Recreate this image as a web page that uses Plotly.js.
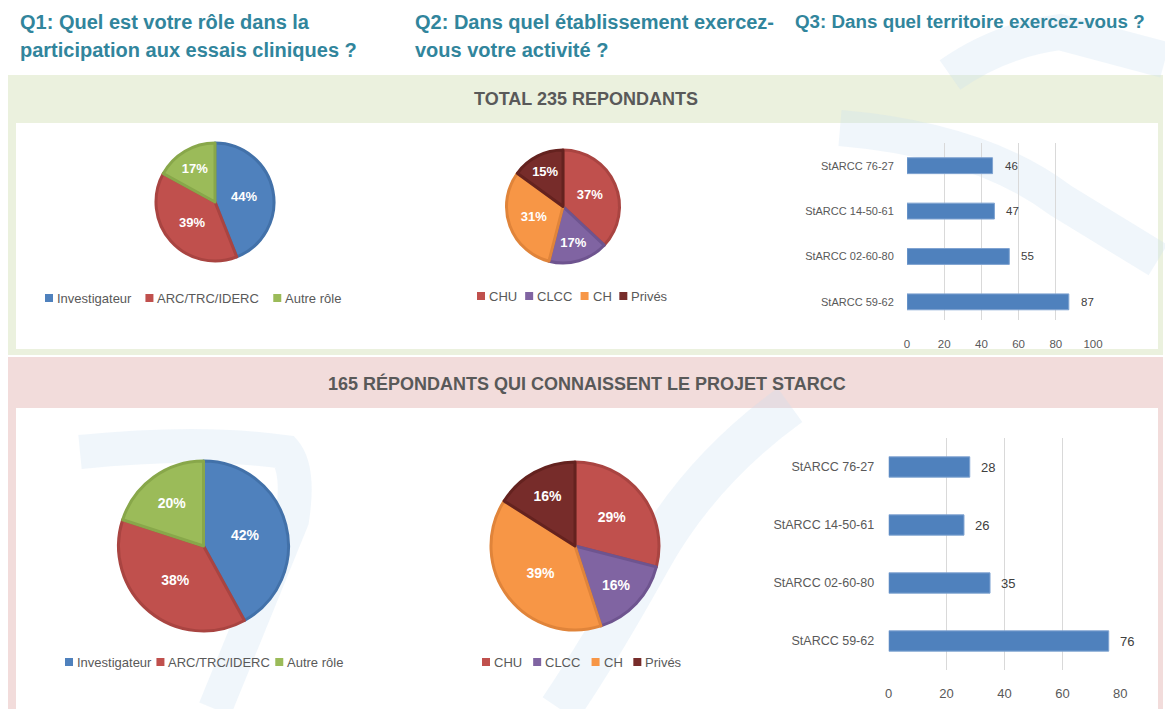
<!DOCTYPE html>
<html>
<head>
<meta charset="utf-8">
<script src="https://cdn.plot.ly/plotly-3.0.1.min.js"></script>
<style>html,body{margin:0;padding:0;background:#fff;}#chart{width:1165px;height:709px;}</style>
</head>
<body>
<div id="chart"></div>
<script>
// ---- data ----
const roleLabels = ['Investigateur', 'ARC/TRC/IDERC', 'Autre rôle'];
const roleTotal = [44, 39, 17];
const roleKnow = [42, 38, 20];
const etabLabels = ['CHU', 'CLCC', 'CH', 'Privés'];
const etabTotal = [37, 17, 31, 15];
const etabKnow = [29, 16, 39, 16];
const territories = ['StARCC 59-62', 'StARCC 02-60-80', 'StARCC 14-50-61', 'StARCC 76-27'];
const terrTotal = [87, 55, 47, 46];
const terrKnow = [76, 35, 26, 28];
const xTicksTotal = [0, 20, 40, 60, 80, 100];
const xTicksKnow = [0, 20, 40, 60, 80];

const titleQ1 = ['Q1: Quel est votre rôle dans la', 'participation aux essais cliniques ?'];
const titleQ2 = ['Q2: Dans quel établissement exercez-', 'vous votre activité ?'];
const titleQ3 = ['Q3: Dans quel territoire exercez-vous ?'];
const headTotal = 'TOTAL 235 REPONDANTS';
const headKnow = '165 RÉPONDANTS QUI CONNAISSENT LE PROJET STARCC';

// ---- styles ----
const roleColors = ['#4F81BD', '#C0504D', '#9BBB59'];
const roleLines = ['#4271A9', '#A94441', '#88A74A'];
const etabColors = ['#C0504D', '#8064A2', '#F79646', '#772C2A'];
const etabLines = ['#A94441', '#6E548F', '#E0843A', '#64221F'];
const FONT = '"Liberation Sans", Arial, sans-serif';
const W = 1165, H = 709;
const fx = x => x / W;
const fy = y => 1 - y / H;
const P = s => s.replace(/(-?\d+\.?\d*),(-?\d+\.?\d*)/g, (m, a, b) => (a / W).toFixed(5) + ',' + (1 - b / H).toFixed(5));

function pie(labels, values, colors, lines, dom, fs) {
  return {
    type: 'pie', labels: labels, values: values, sort: false, direction: 'clockwise', rotation: 0,
    marker: {colors: colors, line: {color: lines, width: 3}},
    texttemplate: '%{value}%', textposition: 'inside', insidetextorientation: 'horizontal',
    textfont: {color: '#ffffff', size: fs, family: FONT, weight: 'bold'},
    domain: {x: [fx(dom[0]), fx(dom[1])], y: [fy(dom[3]), fy(dom[2])]},
    showlegend: false, hoverinfo: 'label+percent'
  };
}
function bar(vals, xa, ya) {
  return {
    type: 'bar', orientation: 'h', y: territories, x: vals, xaxis: xa, yaxis: ya,
    marker: {color: '#4F81BD', line: {color: '#7FA3D1', width: 1}}, width: 0.35,
    showlegend: false, hoverinfo: 'x+y'
  };
}

const data = [
  pie(roleLabels, roleTotal, roleColors, roleLines, [156, 274, 143, 261], 13),
  pie(etabLabels, etabTotal, etabColors, etabLines, [506, 620, 150, 263], 13),
  pie(roleLabels, roleKnow, roleColors, roleLines, [118, 289, 461, 631], 14),
  pie(etabLabels, etabKnow, etabColors, etabLines, [491, 659, 462, 630], 14),
  bar(terrTotal, 'x', 'y'),
  bar(terrKnow, 'x2', 'y2')
];

const shapes = [];
const annotations = [];
// panels
function rect(x0, y0, x1, y1, color) {
  shapes.push({type: 'rect', xref: 'paper', yref: 'paper', x0: fx(x0), x1: fx(x1), y0: fy(y1), y1: fy(y0),
    fillcolor: color, line: {width: 0}, layer: 'below'});
}
rect(8, 75, 1163, 355, '#EBF1DE');
rect(16, 123, 1158, 349, '#FFFFFF');
rect(8, 357, 1163, 709, '#F2DCDB');
rect(16, 408, 1158, 709, '#FFFFFF');
// faint watermark strokes
const wm = 'rgba(200,224,240,0.28)';
[
  ['M 80,452 Q 200,440 285,452 Q 300,470 292,520 L 215,709', 34],
  ['M 790,405 Q 700,470 650,560 Q 600,650 560,709', 42],
  ['M 840,128 Q 980,140 1060,200 L 1158,260', 36],
  ['M 950,75 Q 1000,40 1060,32 L 1165,60', 36]
].forEach(([p, w]) => shapes.push({type: 'path', xref: 'paper', yref: 'paper', path: P(p),
  line: {color: wm, width: w}, fillcolor: 'rgba(0,0,0,0)', layer: 'below'}));

// titles
function text(t, x, y, size, color, anchor, bold) {
  annotations.push({xref: 'paper', yref: 'paper', x: fx(x), y: fy(y), text: t, showarrow: false,
    xanchor: anchor, yanchor: 'middle', align: 'left',
    font: {size: size, color: color, family: FONT, weight: bold ? 'bold' : 'normal'}});
}
const teal = '#31859C';
titleQ1.forEach((t, i) => text(t, 18, 22 + 28 * i, 20, teal, 'left', true));
titleQ2.forEach((t, i) => text(t, 413, 22 + 28 * i, 20, teal, 'left', true));
titleQ3.forEach((t, i) => text(t, 793, 22 + 28 * i, 18.8, teal, 'left', true));
text(headTotal, 586, 99, 18, '#595959', 'center', true);
text(headKnow, 587, 383, 18, '#595959', 'center', true);

// legends
const cv = document.createElement('canvas').getContext('2d');
function legend(labels, colors, x0, yc, fs, gap) {
  cv.font = fs + 'px "Liberation Sans", Arial, sans-serif';
  let x = x0;
  labels.forEach((lab, i) => {
    shapes.push({type: 'rect', xref: 'paper', yref: 'paper', x0: fx(x), x1: fx(x + 8), y0: fy(yc + 4), y1: fy(yc - 4),
      fillcolor: colors[i], line: {width: 0}});
    text(lab, x + 10, yc, fs, '#595959', 'left', false);
    x += 12 + cv.measureText(lab).width + gap;
  });
}
legend(roleLabels, roleColors, 45, 298, 13, 14);
legend(etabLabels, etabColors, 477, 296, 13, 8);
legend(roleLabels, roleColors, 65, 662, 13, 5);
legend(etabLabels, etabColors, 482, 662, 13, 11);

// bar value labels
terrTotal.forEach((v, i) => annotations.push({xref: 'x', yref: 'y', x: v, y: territories[i], text: String(v),
  showarrow: false, xanchor: 'left', xshift: 10, font: {size: 11.5, color: '#404040', family: FONT}}));
terrKnow.forEach((v, i) => annotations.push({xref: 'x2', yref: 'y2', x: v, y: territories[i], text: String(v),
  showarrow: false, xanchor: 'left', xshift: 9, font: {size: 13, color: '#404040', family: FONT}}));

const axBase = {showline: false, zeroline: false, fixedrange: true};
const layout = {
  width: W, height: H, margin: {l: 0, r: 0, t: 0, b: 0},
  paper_bgcolor: '#ffffff', plot_bgcolor: 'rgba(0,0,0,0)',
  font: {family: FONT, color: '#595959'},
  showlegend: false,
  xaxis: Object.assign({}, axBase, {domain: [fx(907), fx(1093)], range: [0, 100], tickvals: xTicksTotal,
    showgrid: true, gridcolor: '#D9D9D9', gridwidth: 1, ticks: 'outside', ticklen: 13, tickcolor: 'rgba(0,0,0,0)',
    tickfont: {size: 11.5, color: '#595959'}, anchor: 'y'}),
  yaxis: Object.assign({}, axBase, {domain: [fy(320), fy(143)], range: [-0.4, 3.5], type: 'category',
    showgrid: false, ticks: 'outside', ticklen: 10, tickcolor: 'rgba(0,0,0,0)',
    tickfont: {size: 11, color: '#595959'}, anchor: 'x'}),
  xaxis2: Object.assign({}, axBase, {domain: [fx(888.7), fx(1120.3)], range: [0, 80], tickvals: xTicksKnow,
    showgrid: true, gridcolor: '#D9D9D9', gridwidth: 1, ticks: 'outside', ticklen: 11, tickcolor: 'rgba(0,0,0,0)',
    tickfont: {size: 13, color: '#595959'}, anchor: 'y2'}),
  yaxis2: Object.assign({}, axBase, {domain: [fy(670), fy(438)], range: [-0.5, 3.5], type: 'category',
    showgrid: false, ticks: 'outside', ticklen: 11, tickcolor: 'rgba(0,0,0,0)',
    tickfont: {size: 12.5, color: '#595959'}, anchor: 'x2'}),
  shapes: shapes,
  annotations: annotations
};
Plotly.newPlot('chart', data, layout, {displayModeBar: false, staticPlot: true});
</script>
</body>
</html>
